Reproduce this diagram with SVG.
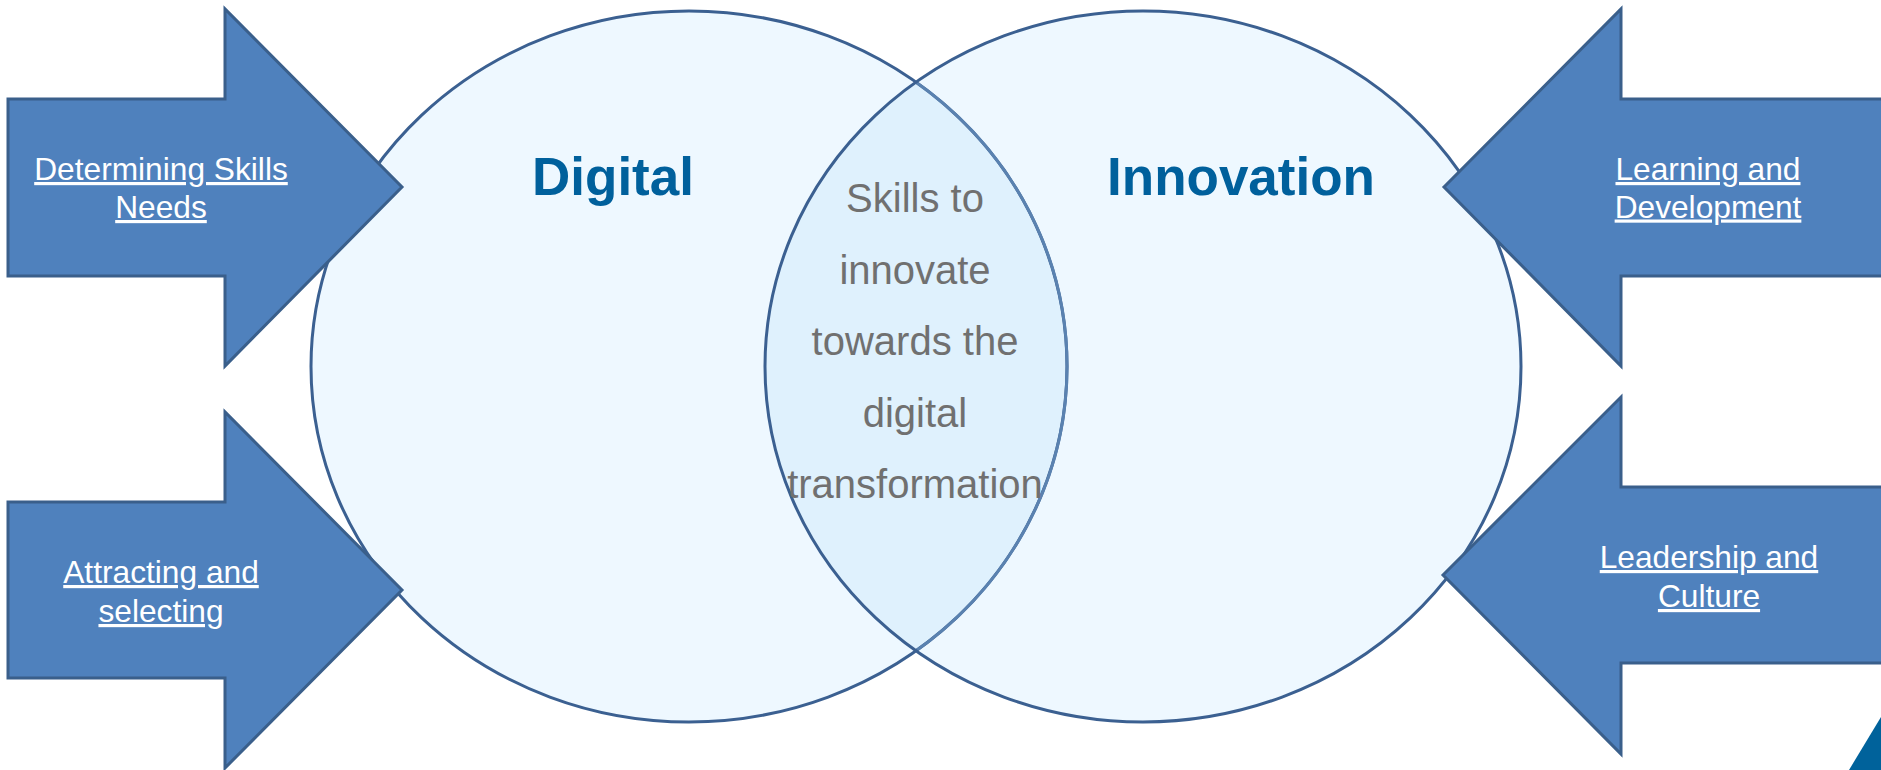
<svg xmlns="http://www.w3.org/2000/svg" width="1881" height="770" viewBox="0 0 1881 770">
<style>
.fill{fill:#EEF8FF;stroke:none}
.ring{fill:none;stroke:#3B6091;stroke-width:3}
.arrow{fill:#4F81BD;stroke:#3A5F8B;stroke-width:3;stroke-linejoin:miter}
.lbl{font-family:"Liberation Sans",Arial,sans-serif;font-size:31.7px;fill:#FFFFFF;text-anchor:middle;text-decoration:underline}
.title{font-family:"Liberation Sans",Arial,sans-serif;font-size:53px;font-weight:bold;fill:#00609C;text-anchor:middle}
.mid{font-family:"Liberation Sans",Arial,sans-serif;font-size:40px;fill:#707070;text-anchor:middle}
</style>
<rect x="0" y="0" width="1881" height="770" fill="#FFFFFF"/>
<g id="venn">
<ellipse class="fill" cx="689" cy="366.5" rx="378" ry="355.5"/>
<ellipse class="fill" cx="1143" cy="366.5" rx="378" ry="355.5"/>
<path d="M916 82.2 A378 355.5 0 0 0 916 650.8 A378 355.5 0 0 0 916 82.2 Z" fill="#DFF1FD"/>
<ellipse class="ring" cx="689" cy="366.5" rx="378" ry="355.5"/>
<path d="M916 650.8 A378 355.5 0 0 0 916 82.2" fill="none" stroke="#5A82B0" stroke-width="3"/>
<ellipse class="ring" cx="1143" cy="366.5" rx="378" ry="355.5"/>
</g>
<g id="digital"><text class="title" x="613" y="195">Digital</text></g>
<g id="innovation"><text class="title" x="1241" y="195">Innovation</text></g>
<g id="overlap">
<text class="mid" x="915" y="212">Skills to</text>
<text class="mid" x="915" y="284">innovate</text>
<text class="mid" x="915" y="355">towards the</text>
<text class="mid" x="915" y="427">digital</text>
<text class="mid" x="915" y="498">transformation</text>
</g>
<g id="arrow-skills">
<polygon class="arrow" points="8,99 225,99 225,9 402,187 225,366 225,276 8,276"/>
<text class="lbl" x="161" y="180">Determining Skills</text>
<text class="lbl" x="161" y="218">Needs</text>
</g>
<g id="arrow-attracting">
<polygon class="arrow" points="8,502 225,502 225,412 402,590 225,768 225,678 8,678"/>
<text class="lbl" x="161" y="583">Attracting and</text>
<text class="lbl" x="161" y="622">selecting</text>
</g>
<g id="arrow-learning">
<polygon class="arrow" points="1444,187 1621,9 1621,99 1890,99 1890,276 1621,276 1621,366"/>
<text class="lbl" x="1708" y="180">Learning and</text>
<text class="lbl" x="1708" y="217.5">Development</text>
</g>
<g id="arrow-leadership">
<polygon class="arrow" points="1443,575 1621,397 1621,487 1890,487 1890,663 1621,663 1621,754"/>
<text class="lbl" x="1709" y="568">Leadership and</text>
<text class="lbl" x="1709" y="607">Culture</text>
</g>
<g id="connectors"></g>
<polygon points="1881,717 1849,770 1881,770" fill="#00629B"/>
</svg>
